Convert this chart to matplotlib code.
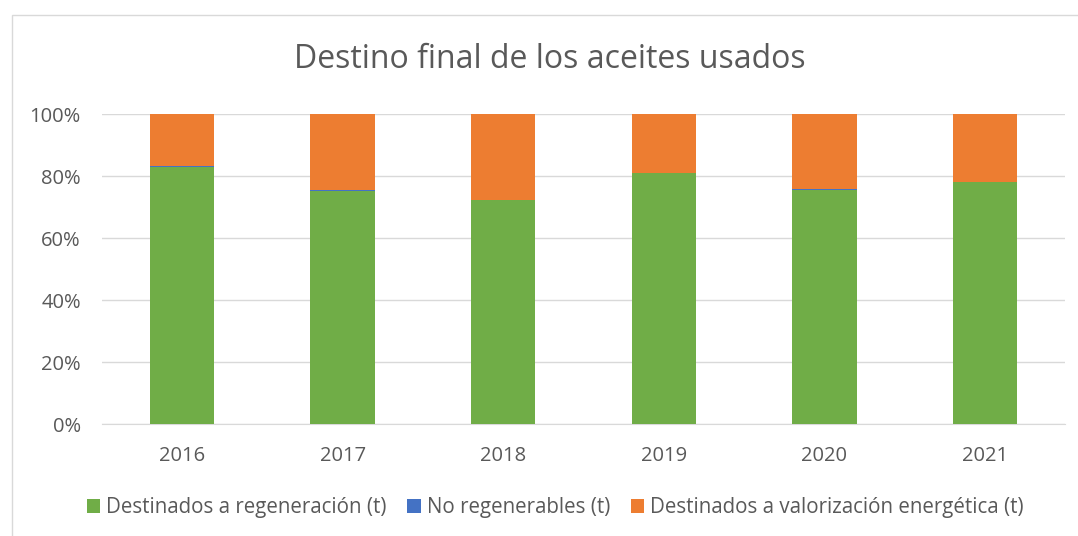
import matplotlib.pyplot as plt
from matplotlib.patches import Rectangle
from matplotlib.ticker import PercentFormatter
import numpy as np

years = ['2016', '2017', '2018', '2019', '2020', '2021']
regeneracion = [82.9, 75.2, 72.1, 81.0, 75.6, 78.0]
noRegenerables = [0.4, 0.4, 0.1, 0.1, 0.3, 0.1]
valorizacion = [100 - r - n for r, n in zip(regeneracion, noRegenerables)]

seriesNames = ['Destinados a regeneración (t)', 'No regenerables (t)',
               'Destinados a valorización energética (t)']
seriesColors = ['#70ad47', '#4472c4', '#ed7d31']

plt.rcParams['font.family'] = ['Open Sans', 'DejaVu Sans']
textColor = '#595959'

fig = plt.figure(figsize=(10.78, 5.36), dpi=100)
W, H = 1078, 536
ax = fig.add_axes([101.7 / W, 1 - 424 / H, (1065.3 - 101.7) / W, (424 - 114) / H])

# chart border
fig.patches.append(Rectangle((12 / W, -0.1), 1.2, 1 - 15 / H + 0.1, transform=fig.transFigure,
                             fill=False, edgecolor='#d9d9d9', linewidth=1))

x = np.arange(len(years))
bottom = np.zeros(len(years))
for values, name, color in zip([regeneracion, noRegenerables, valorizacion], seriesNames, seriesColors):
    ax.bar(x, values, width=0.4, bottom=bottom, color=color, label=name, zorder=3)
    bottom += np.array(values)

ax.set_xlim(-0.5, len(years) - 0.5)
ax.set_ylim(0, 100)
ax.set_yticks(np.arange(0, 101, 20))
ax.yaxis.set_major_formatter(PercentFormatter(decimals=0))
ax.set_xticks(x)
ax.set_xticklabels(years)
ax.grid(axis='y', color='#d9d9d9', linewidth=1, zorder=0)
for side in ['top', 'right', 'left']:
    ax.spines[side].set_visible(False)
ax.spines['bottom'].set_color('#d9d9d9')
ax.tick_params(axis='both', length=0, labelsize=14.5, colors=textColor)
ax.tick_params(axis='y', pad=15)
ax.tick_params(axis='x', pad=16)

fig.text(0.51, 1 - 60 / H, 'Destino final de los aceites usados', ha='center', va='center',
         fontsize=23, color=textColor)

fig.legend(loc='center', bbox_to_anchor=(0.515, 1 - 508 / H), ncol=3, frameon=False,
           fontsize=14.8, handlelength=0.65, handleheight=0.65, handletextpad=0.3,
           columnspacing=1.0, labelcolor=textColor)

fig.savefig('out.png', dpi=100)
